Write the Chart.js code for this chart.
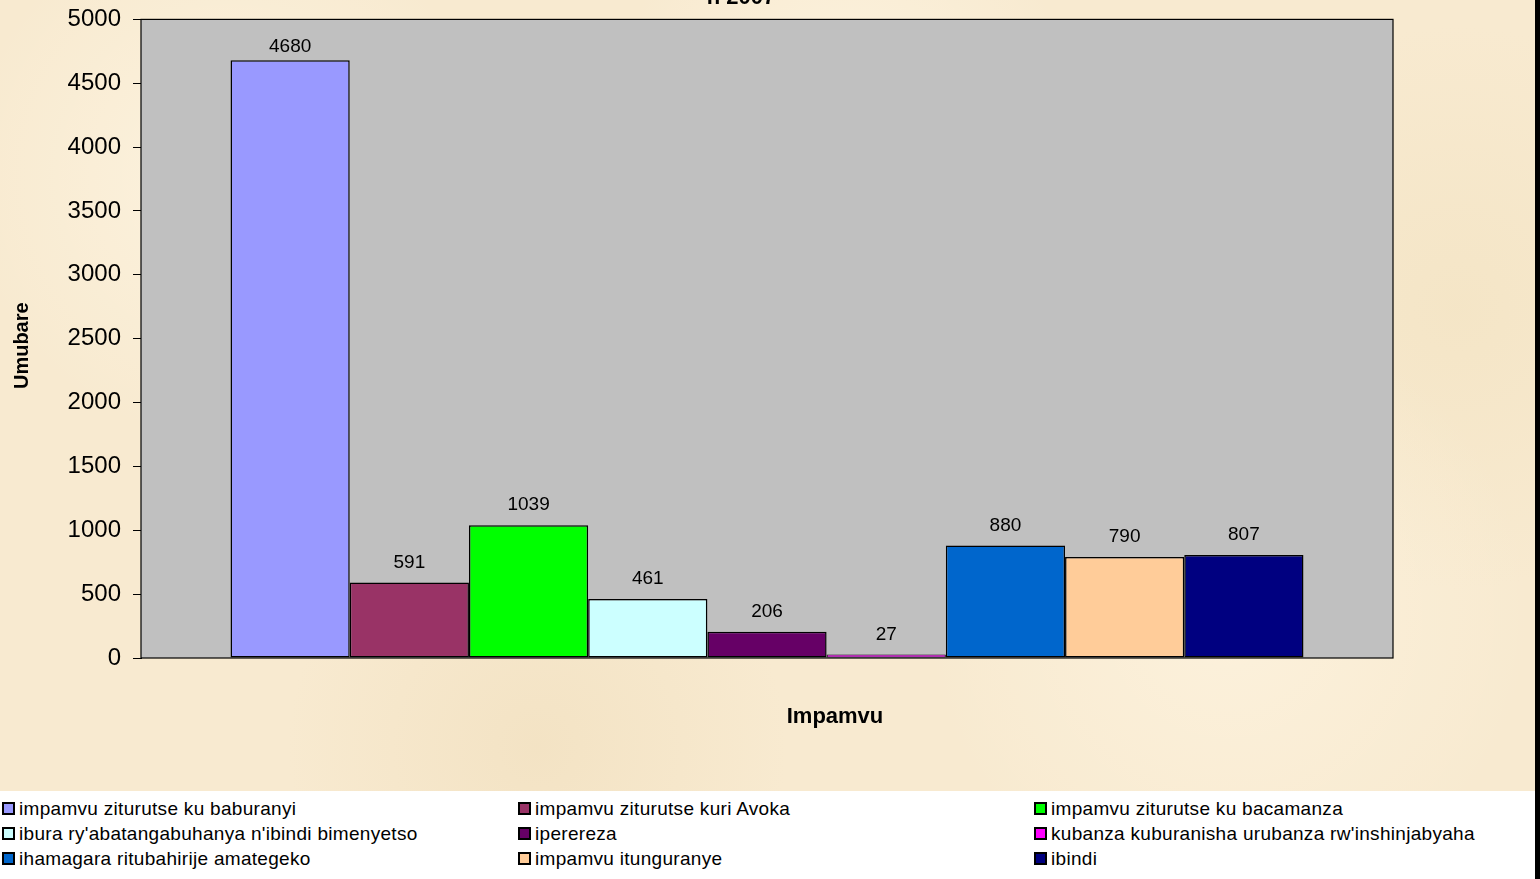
<!DOCTYPE html>
<html>
<head>
<meta charset="utf-8">
<script src="https://cdn.jsdelivr.net/npm/chart.js@4/dist/chart.umd.min.js"></script>
<style>
  body { margin: 0; width: 1540px; height: 879px; overflow: hidden; font-family: "Liberation Sans", Arial, sans-serif; }
  #page { position: relative; width: 1535px; height: 879px; border-right: 5px solid #000; overflow: hidden;
    background-color: #f8ead0;
    background-image:
      radial-gradient(circle at 15% 20%, rgba(255,248,232,0.6), rgba(255,248,232,0) 18%),
      radial-gradient(circle at 55% 12%, rgba(255,248,232,0.6), rgba(255,248,232,0) 20%),
      radial-gradient(circle at 35% 85%, rgba(240,222,188,0.6), rgba(240,222,188,0) 20%),
      radial-gradient(circle at 80% 70%, rgba(255,246,228,0.6), rgba(255,246,228,0) 22%),
      radial-gradient(circle at 95% 35%, rgba(242,226,192,0.6), rgba(242,226,192,0) 18%);
  }
  #wrap { position: absolute; left: 0; top: -7px; width: 1540px; height: 797px; }
  #legend { position: absolute; left: 0; top: 791px; width: 1535px; height: 88px; background: #fff;
    display: grid; grid-template-columns: 516px 516px 503px; grid-auto-rows: 25px; padding-top: 5px; box-sizing: border-box; }
  #legend div { font-size: 19px; letter-spacing: 0.3px; color: #000; white-space: nowrap; display: flex; align-items: center; padding-left: 2px; }
  #legend span { display: inline-block; width: 9px; height: 9px; border: 2px solid #000; margin-right: 4px; }
</style>
</head>
<body>
<div id="page">
  <div id="wrap"><canvas id="chart" width="1540" height="797"></canvas></div>
  <div id="legend"></div>
</div>
<script>
const categories = [
  "impamvu ziturutse ku baburanyi",
  "impamvu ziturutse kuri Avoka",
  "impamvu ziturutse ku bacamanza",
  "ibura ry'abatangabuhanya n'ibindi bimenyetso",
  "iperereza",
  "kubanza kuburanisha urubanza rw'inshinjabyaha",
  "ihamagara ritubahirije amategeko",
  "impamvu itunguranye",
  "ibindi"
];
const values = [4680, 591, 1039, 461, 206, 27, 880, 790, 807];
const colors = ['#9999ff', '#993366', '#00ff00', '#ccffff', '#660066', '#ff00ff', '#0066cc', '#ffcc99', '#000080'];
const yTicks = [0, 500, 1000, 1500, 2000, 2500, 3000, 3500, 4000, 4500, 5000];
const titleText = 'n 2007';
const xTitle = 'Impamvu';
const yTitle = 'Umubare';

const datasets = categories.map((c, i) => ({
  label: c,
  data: [values[i]],
  backgroundColor: colors[i],
  borderColor: '#000',
  borderWidth: values[i] < 100 ? 1 : 1.5,
  borderSkipped: false,
  categoryPercentage: 0.857,
  barPercentage: 1
}));

// gray plot area + black box
const plotBox = {
  id: 'plotBox',
  beforeDatasetsDraw(chart) {
    const { ctx, chartArea: a } = chart;
    ctx.save();
    ctx.fillStyle = '#c0c0c0';
    ctx.fillRect(a.left, a.top, a.right - a.left, a.bottom - a.top);
    ctx.restore();
  },
  afterDatasetsDraw(chart) {
    const { ctx, chartArea: a } = chart;
    ctx.save();
    ctx.strokeStyle = '#000';
    ctx.lineWidth = 1.2;
    ctx.strokeRect(a.left, a.top, a.right - a.left, a.bottom - a.top);
    ctx.restore();
  }
};

// value labels above bars
const valueLabels = {
  id: 'valueLabels',
  afterDatasetsDraw(chart) {
    const { ctx, chartArea: a } = chart;
    ctx.save();
    ctx.font = '19px "Liberation Sans", Arial, sans-serif';
    ctx.fillStyle = '#000';
    ctx.textAlign = 'center';
    ctx.textBaseline = 'alphabetic';
    chart.data.datasets.forEach((ds, i) => {
      const bar = chart.getDatasetMeta(i).data[0];
      const y = Math.max(bar.y - 15, a.top + 33);
      ctx.fillText(String(ds.data[0]), bar.x, y);
    });
    ctx.restore();
  }
};

// axis titles + cut off chart title
const titles = {
  id: 'titles',
  afterDraw(chart) {
    const { ctx, chartArea: a } = chart;
    ctx.save();
    ctx.fillStyle = '#000';
    ctx.textAlign = 'center';
    ctx.font = 'bold 22px "Liberation Sans", Arial, sans-serif';
    ctx.textBaseline = 'alphabetic';
    ctx.fillText(titleText, 741, 11);
    ctx.textBaseline = 'middle';
    ctx.fillText(xTitle, (a.left + a.right) / 2 + 68, a.bottom + 59);
    ctx.font = 'bold 20px "Liberation Sans", Arial, sans-serif';
    ctx.translate(22, (a.top + a.bottom) / 2 + 7);
    ctx.rotate(-Math.PI / 2);
    ctx.fillText(yTitle, 0, 0);
    ctx.restore();
  }
};

new Chart(document.getElementById('chart'), {
  type: 'bar',
  data: { labels: [''], datasets: datasets },
  options: {
    responsive: false,
    animation: false,
    layout: { padding: { top: 12, right: 147, left: 0, bottom: 0 } },
    plugins: { legend: { display: false }, tooltip: { enabled: false } },
    scales: {
      x: {
        ticks: { display: false },
        grid: { display: false },
        border: { display: false },
        afterFit(scale) { scale.height = 132; }
      },
      y: {
        min: 0,
        max: 5000,
        afterBuildTicks(scale) { scale.ticks = yTicks.map(v => ({ value: v })); },
        ticks: {
          color: '#000', padding: 12,
          font: { size: 24, family: '"Liberation Sans", Arial, sans-serif' },
          callback: v => String(v)
        },
        grid: { drawOnChartArea: false, color: '#000', tickLength: 8, lineWidth: 1 },
        border: { display: true, color: '#000' },
        afterFit(scale) { scale.width = 141; }
      }
    }
  },
  plugins: [plotBox, valueLabels, titles]
});

// legend built from the same arrays
const legend = document.getElementById('legend');
categories.forEach((c, i) => {
  const d = document.createElement('div');
  d.innerHTML = '<span style="background:' + colors[i] + '"></span>' + c;
  legend.appendChild(d);
});
</script>
</body>
</html>
